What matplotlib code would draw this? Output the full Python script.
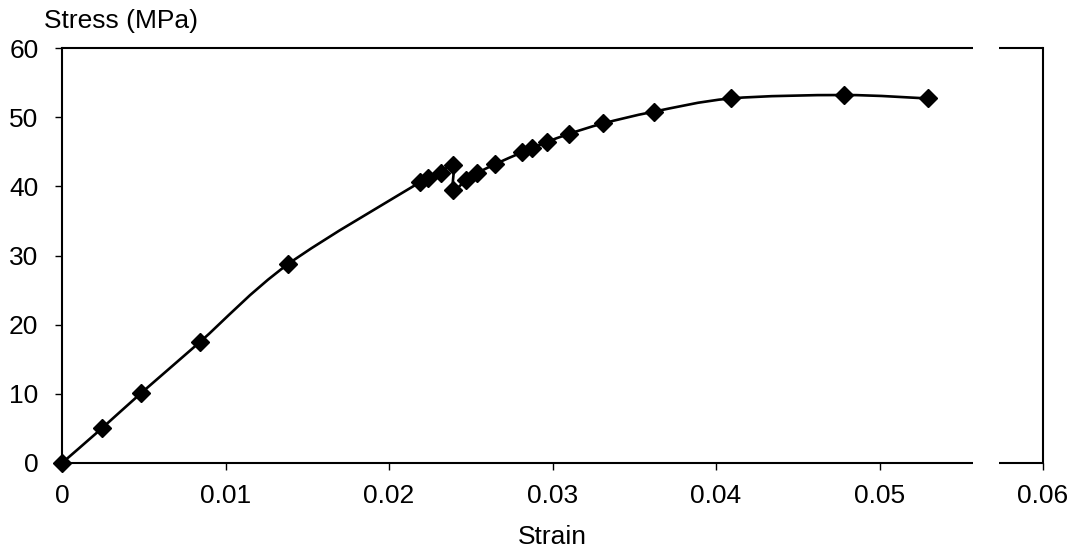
import numpy as np
import matplotlib.pyplot as plt
from matplotlib.path import Path
from matplotlib.patches import PathPatch

plt.rcParams['font.family'] = ['Liberation Sans', 'DejaVu Sans']

# data
strain = [0.0, 0.00243, 0.00481, 0.00844, 0.0138, 0.0219, 0.0224, 0.02316, 0.02393,
          0.02393, 0.02471, 0.0254, 0.02648, 0.02812, 0.02873, 0.02965, 0.03103,
          0.03311, 0.03621, 0.0409, 0.04783, 0.05298]
stress = [0.0, 5.0, 10.05, 17.5, 28.7, 40.6, 41.2, 42.0, 43.1,
          39.5, 40.9, 41.9, 43.2, 44.9, 45.5, 46.4, 47.6,
          49.1, 50.8, 52.7, 53.2, 52.7]
xticks = [0, 0.01, 0.02, 0.03, 0.04, 0.05, 0.06]
xticklabels = ['0', '0.01', '0.02', '0.03', '0.04', '0.05', '0.06']
yticks = [0, 10, 20, 30, 40, 50, 60]
gap = (0.0557, 0.0573)  # break in the top/bottom frame lines

fig = plt.figure(figsize=(10.78, 5.55), dpi=100)
ax = fig.add_axes([62/1078, 92/555, 981/1078, 415/555])

# smoothed line like a spreadsheet "smoothed line" (catmull-rom as bezier)
P = np.column_stack([strain, stress])
verts = [P[0]]
codes = [Path.MOVETO]
n = len(P)
for i in range(n - 1):
    p0 = P[max(i - 1, 0)]
    p1 = P[i]
    p2 = P[i + 1]
    p3 = P[min(i + 2, n - 1)]
    c1 = p1 + (p2 - p0) / 6.0
    c2 = p2 - (p3 - p1) / 6.0
    verts += [c1, c2, p2]
    codes += [Path.CURVE4] * 3
ax.add_patch(PathPatch(Path(verts, codes), facecolor='none', edgecolor='black', lw=1.9))
ax.plot(strain, stress, linestyle='none', marker='D', ms=9.5, color='black', clip_on=False, zorder=3)

ax.set_xlim(0, 0.06)
ax.set_ylim(0, 60)
ax.set_xticks(xticks)
ax.set_xticklabels(xticklabels)
ax.set_yticks(yticks)
ax.tick_params(labelsize=19, length=5, width=1, direction='out')
ax.tick_params(axis='x', pad=10)
ax.tick_params(axis='y', pad=12)

for s in ['left', 'right']:
    ax.spines[s].set_linewidth(1.5)
ax.spines['top'].set_visible(False)
ax.spines['bottom'].set_visible(False)
tr = ax.get_xaxis_transform()
for yy in [0, 1]:
    ax.plot([0, gap[0]], [yy, yy], transform=tr, color='black', lw=1.5, clip_on=False, solid_capstyle='butt')
    ax.plot([gap[1], 0.06], [yy, yy], transform=tr, color='black', lw=1.5, clip_on=False, solid_capstyle='butt')

ax.set_xlabel('Strain', fontsize=19, labelpad=12)
fig.text(44/1078, 1 - 28/555, 'Stress (MPa)', fontsize=19, va='baseline', ha='left')

plt.savefig('out.png', dpi=100)
